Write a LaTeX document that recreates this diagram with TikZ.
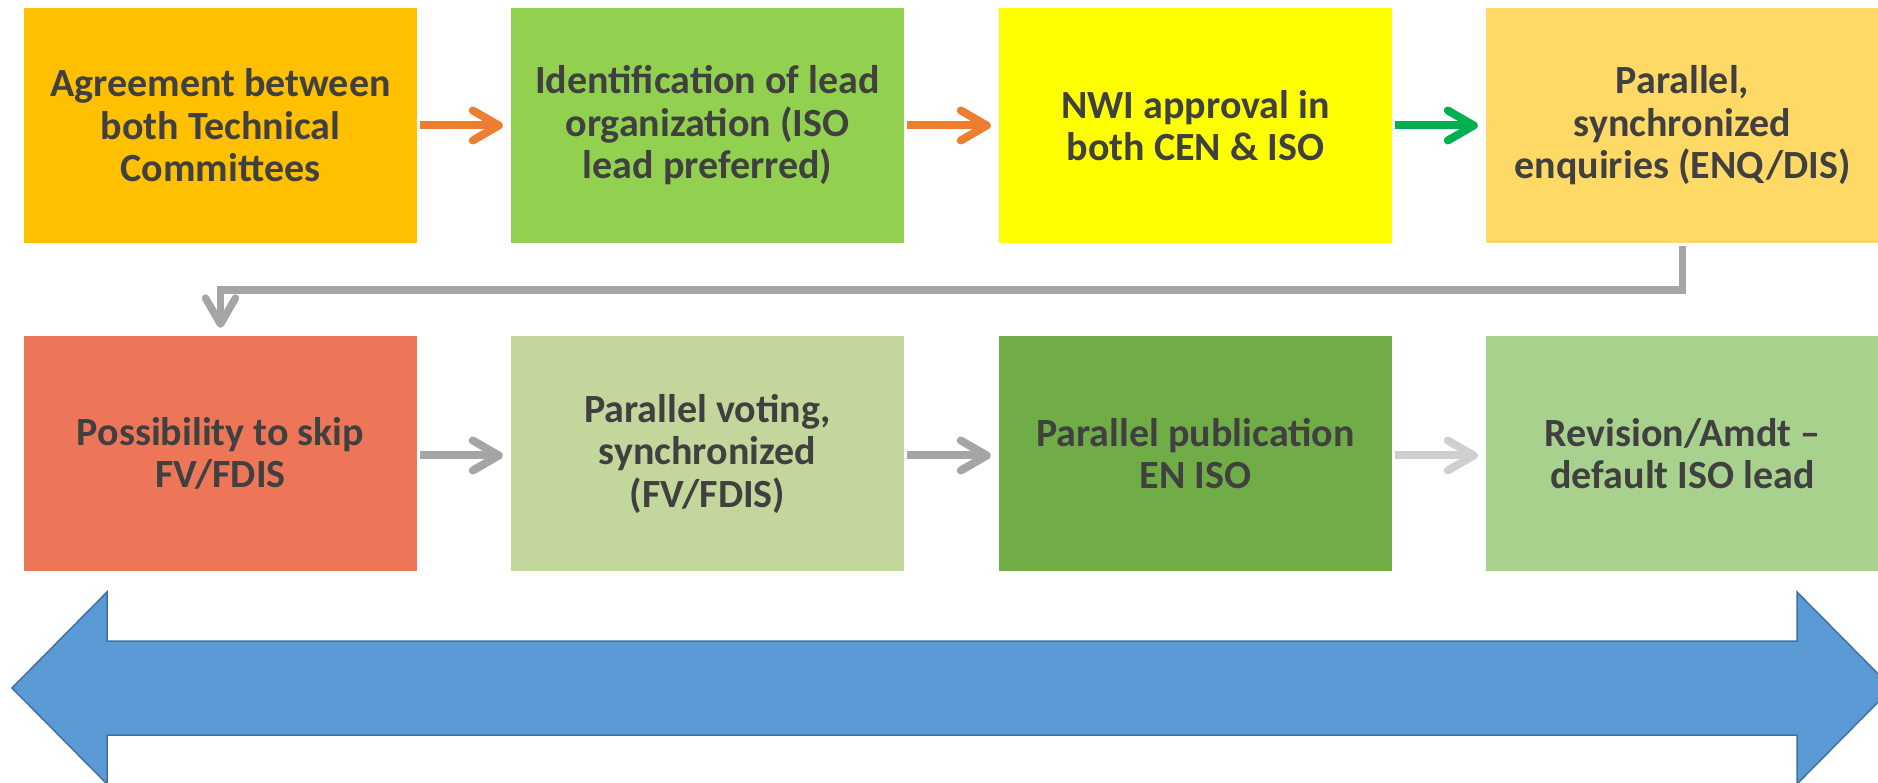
\documentclass[tikz,border=0pt]{standalone}
\usepackage{fontspec}
\setmainfont{Carlito}
\usetikzlibrary{arrows.meta,calc}
\definecolor{txt}{HTML}{404040}
\definecolor{cA}{HTML}{FFC000}
\definecolor{cB}{HTML}{92D050}
\definecolor{cC}{HTML}{FFFF00}
\definecolor{cD}{HTML}{FFD966}
\definecolor{cE}{HTML}{EE7658}
\definecolor{cF}{HTML}{C3D69B}
\definecolor{cG}{HTML}{70AD47}
\definecolor{cH}{HTML}{A9D18E}
\definecolor{aOr}{HTML}{ED7D31}
\definecolor{aGr}{HTML}{00B050}
\definecolor{aGy}{HTML}{A5A5A5}
\definecolor{aLg}{HTML}{CFCFCF}
\definecolor{bigF}{HTML}{5B9BD5}
\definecolor{bigD}{HTML}{41719C}
\tikzset{
  stepbox/.style={draw=none, minimum width=393pt, minimum height=235pt, inner sep=0pt,
    text=txt, align=center, font=\fontsize{40}{42.5}\selectfont\bfseries},
  flow/.style={line width=8pt, -{Straight Barb[length=26pt,width=30pt,round]}},
}
\begin{document}
\begin{tikzpicture}[x=1pt,y=1pt]
\clip (0,0) rectangle (1878,782);
\fill[white] (0,0) rectangle (1878,782);
% row 1
\node[stepbox, fill=cA] (b1) at (220.5,656.5) {Agreement between\\both Technical\\Committees};
\node[stepbox, fill=cB] (b2) at (707.5,656.5) {Identification of lead\\organization (ISO\\lead preferred)};
\node[stepbox, fill=cC] (b3) at (1195.5,656.5) {NWI approval in\\both CEN \& ISO};
\node[stepbox, fill=cD] (b4) at (1682.5,656.5) {Parallel,\\synchronized\\enquiries (ENQ/DIS)};
% row 2
\node[stepbox, fill=cE] (b5) at (220.5,328.5) {Possibility to skip\\FV/FDIS};
\node[stepbox, fill=cF] (b6) at (707.5,328.5) {Parallel voting,\\synchronized\\(FV/FDIS)};
\node[stepbox, fill=cG] (b7) at (1195.5,328.5) {Parallel publication\\EN ISO};
\node[stepbox, fill=cH] (b8) at (1682.5,328.5) {Revision/Amdt --\\default ISO lead};
% connectors row 1
\draw[flow, aOr] ($(b1.east)+(3,0)$) -- ($(b2.west)+(-8,0)$);
\draw[flow, aOr] ($(b2.east)+(3,0)$) -- ($(b3.west)+(-8,0)$);
\draw[flow, aGr] ($(b3.east)+(3,0)$) -- ($(b4.west)+(-8,0)$);
% elbow
\draw[flow, aGy, line width=7.5pt, line join=miter] ($(b4.south)+(0,-3)$) -- ++(0,-44) -| ($(b5.north)+(0,8)$);
% connectors row 2
\draw[flow, aGy] ($(b5.east)+(3,-2)$) -- ($(b6.west)+(-8,-2)$);
\draw[flow, aGy] ($(b6.east)+(3,-2)$) -- ($(b7.west)+(-8,-2)$);
\draw[flow, aLg] ($(b7.east)+(3,-2)$) -- ($(b8.west)+(-8,-2)$);
% big double arrow
\draw[fill=bigF, draw=bigD, line width=1.5pt, line join=miter]
  (12,94) -- (107,190) -- (107,141) -- (1797,141) -- (1797,190) -- (1892,94)
  -- (1797,-2) -- (1797,47) -- (107,47) -- (107,-2) -- cycle;
\end{tikzpicture}
\end{document}
